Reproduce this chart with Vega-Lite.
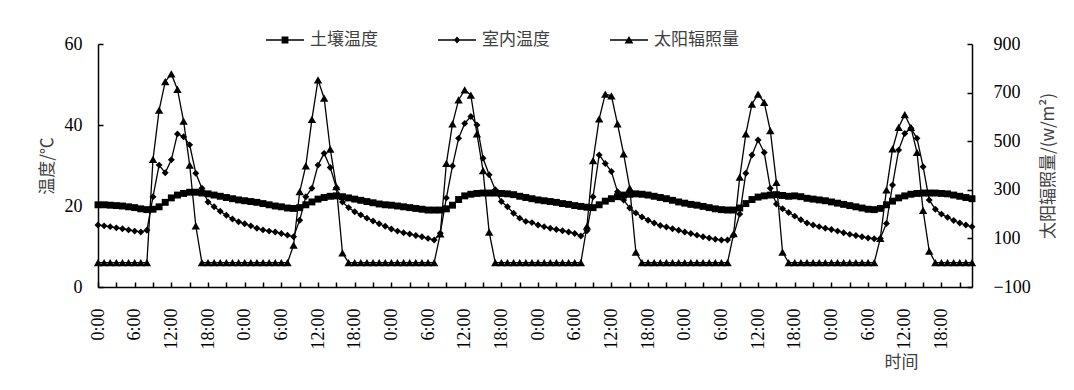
{
"$schema": "https://vega.github.io/schema/vega-lite/v6.json",
"width": 874, "height": 243,
"autosize": {"type": "none"},
"padding": {"left": 98, "top": 44, "right": 102, "bottom": 103},
"background": "white",
"config": {
  "view": {"stroke": null},
  "axis": {"grid": false, "domainColor": "black", "tickColor": "black", "labelColor": "black", "labelFont": "Liberation Serif", "labelFontSize": 18, "titleFont": "Noto Sans CJK SC", "titleFontWeight": "normal", "titleFontSize": 17, "titleColor": "#404040", "domainWidth": 1.5, "tickWidth": 1.5, "tickSize": -5, "labelOverlap": false, "labelFlush": false}
},
"data": {"values": [
{"h":0,"土壤温度":20.3,"室内温度":15.3,"太阳辐照量":0},
{"h":1,"土壤温度":20.3,"室内温度":15.1,"太阳辐照量":0},
{"h":2,"土壤温度":20.2,"室内温度":14.9,"太阳辐照量":0},
{"h":3,"土壤温度":20.1,"室内温度":14.6,"太阳辐照量":0},
{"h":4,"土壤温度":20.0,"室内温度":14.4,"太阳辐照量":0},
{"h":5,"土壤温度":19.8,"室内温度":14.1,"太阳辐照量":0},
{"h":6,"土壤温度":19.6,"室内温度":13.8,"太阳辐照量":0},
{"h":7,"土壤温度":19.3,"室内温度":13.6,"太阳辐照量":0},
{"h":8,"土壤温度":19.1,"室内温度":14.0,"太阳辐照量":0},
{"h":9,"土壤温度":19.2,"室内温度":22.3,"太阳辐照量":425},
{"h":10,"土壤温度":19.8,"室内温度":30.1,"太阳辐照量":628},
{"h":11,"土壤温度":20.9,"室内温度":28.2,"太阳辐照量":745},
{"h":12,"土壤温度":22.0,"室内温度":31.4,"太阳辐照量":777},
{"h":13,"土壤温度":22.7,"室内温度":37.8,"太阳辐照量":713},
{"h":14,"土壤温度":23.1,"室内温度":37.1,"太阳辐照量":583},
{"h":15,"土壤温度":23.4,"室内温度":35.1,"太阳辐照量":402},
{"h":16,"土壤温度":23.4,"室内温度":28.1,"太阳辐照量":152},
{"h":17,"土壤温度":23.2,"室内温度":24.4,"太阳辐照量":0},
{"h":18,"土壤温度":23.0,"室内温度":21.0,"太阳辐照量":0},
{"h":19,"土壤温度":22.7,"室内温度":19.8,"太阳辐照量":0},
{"h":20,"土壤温度":22.4,"室内温度":18.7,"太阳辐照量":0},
{"h":21,"土壤温度":22.1,"室内温度":17.7,"太阳辐照量":0},
{"h":22,"土壤温度":21.8,"室内温度":16.8,"太阳辐照量":0},
{"h":23,"土壤温度":21.5,"室内温度":16.1,"太阳辐照量":0},
{"h":24,"土壤温度":21.3,"室内温度":15.6,"太阳辐照量":0},
{"h":25,"土壤温度":21.1,"室内温度":15.1,"太阳辐照量":0},
{"h":26,"土壤温度":20.9,"室内温度":14.5,"太阳辐照量":0},
{"h":27,"土壤温度":20.6,"室内温度":14.1,"太阳辐照量":0},
{"h":28,"土壤温度":20.3,"室内温度":13.8,"太阳辐照量":0},
{"h":29,"土壤温度":20.0,"室内温度":13.6,"太阳辐照量":0},
{"h":30,"土壤温度":19.8,"室内温度":13.2,"太阳辐照量":0},
{"h":31,"土壤温度":19.5,"室内温度":12.8,"太阳辐照量":0},
{"h":32,"土壤温度":19.4,"室内温度":12.4,"太阳辐照量":72},
{"h":33,"土壤温度":19.6,"室内温度":16.5,"太阳辐照量":292},
{"h":34,"土壤温度":20.3,"室内温度":22.3,"太阳辐照量":398},
{"h":35,"土壤温度":21.0,"室内温度":24.4,"太阳辐照量":590},
{"h":36,"土壤温度":21.7,"室内温度":30.1,"太阳辐照量":752},
{"h":37,"土壤温度":22.1,"室内温度":33.0,"太阳辐照量":677},
{"h":38,"土壤温度":22.4,"室内温度":29.5,"太阳辐照量":467},
{"h":39,"土壤温度":22.5,"室内温度":24.5,"太阳辐照量":313},
{"h":40,"土壤温度":22.3,"室内温度":21.0,"太阳辐照量":40},
{"h":41,"土壤温度":22.0,"室内温度":19.6,"太阳辐照量":0},
{"h":42,"土壤温度":21.7,"室内温度":18.6,"太阳辐照量":0},
{"h":43,"土壤温度":21.4,"室内温度":17.8,"太阳辐照量":0},
{"h":44,"土壤温度":21.1,"室内温度":17.0,"太阳辐照量":0},
{"h":45,"土壤温度":20.8,"室内温度":16.3,"太阳辐照量":0},
{"h":46,"土壤温度":20.5,"室内温度":15.6,"太阳辐照量":0},
{"h":47,"土壤温度":20.3,"室内温度":15.0,"太阳辐照量":0},
{"h":48,"土壤温度":20.2,"室内温度":14.3,"太阳辐照量":0},
{"h":49,"土壤温度":20.0,"室内温度":13.8,"太阳辐照量":0},
{"h":50,"土壤温度":19.8,"室内温度":13.4,"太阳辐照量":0},
{"h":51,"土壤温度":19.6,"室内温度":13.1,"太阳辐照量":0},
{"h":52,"土壤温度":19.4,"室内温度":12.7,"太阳辐照量":0},
{"h":53,"土壤温度":19.2,"室内温度":12.4,"太阳辐照量":0},
{"h":54,"土壤温度":19.0,"室内温度":12.0,"太阳辐照量":0},
{"h":55,"土壤温度":19.0,"室内温度":11.6,"太阳辐照量":0},
{"h":56,"土壤温度":19.0,"室内温度":13.3,"太阳辐照量":119},
{"h":57,"土壤温度":19.3,"室内温度":22.0,"太阳辐照量":409},
{"h":58,"土壤温度":20.2,"室内温度":29.9,"太阳辐照量":571},
{"h":59,"土壤温度":21.6,"室内温度":36.7,"太阳辐照量":670},
{"h":60,"土壤温度":22.5,"室内温度":40.4,"太阳辐照量":711},
{"h":61,"土壤温度":22.9,"室内温度":42.1,"太阳辐照量":690},
{"h":62,"土壤温度":23.1,"室内温度":40.0,"太阳辐照量":530},
{"h":63,"土壤温度":23.2,"室内温度":31.8,"太阳辐照量":379},
{"h":64,"土壤温度":23.2,"室内温度":27.7,"太阳辐照量":126},
{"h":65,"土壤温度":23.2,"室内温度":24.0,"太阳辐照量":0},
{"h":66,"土壤温度":23.1,"室内温度":21.1,"太阳辐照量":0},
{"h":67,"土壤温度":23.0,"室内温度":19.8,"太阳辐照量":0},
{"h":68,"土壤温度":22.8,"室内温度":18.2,"太阳辐照量":0},
{"h":69,"土壤温度":22.4,"室内温度":17.0,"太阳辐照量":0},
{"h":70,"土壤温度":22.1,"室内温度":16.2,"太阳辐照量":0},
{"h":71,"土壤温度":21.8,"室内温度":15.9,"太阳辐照量":0},
{"h":72,"土壤温度":21.5,"室内温度":15.3,"太阳辐照量":0},
{"h":73,"土壤温度":21.3,"室内温度":14.9,"太阳辐照量":0},
{"h":74,"土壤温度":21.1,"室内温度":14.5,"太阳辐照量":0},
{"h":75,"土壤温度":20.9,"室内温度":14.2,"太阳辐照量":0},
{"h":76,"土壤温度":20.6,"室内温度":13.9,"太阳辐照量":0},
{"h":77,"土壤温度":20.4,"室内温度":13.6,"太阳辐照量":0},
{"h":78,"土壤温度":20.1,"室内温度":13.2,"太阳辐照量":0},
{"h":79,"土壤温度":19.9,"室内温度":12.6,"太阳辐照量":0},
{"h":80,"土壤温度":19.7,"室内温度":13.9,"太阳辐照量":150},
{"h":81,"土壤温度":19.6,"室内温度":22.3,"太阳辐照量":420},
{"h":82,"土壤温度":20.3,"室内温度":32.6,"太阳辐照量":592},
{"h":83,"土壤温度":21.2,"室内温度":30.5,"太阳辐照量":694},
{"h":84,"土壤温度":21.8,"室内温度":28.5,"太阳辐照量":687},
{"h":85,"土壤温度":22.3,"室内温度":23.5,"太阳辐照量":571},
{"h":86,"土壤温度":22.7,"室内温度":21.5,"太阳辐照量":448},
{"h":87,"土壤温度":22.9,"室内温度":19.5,"太阳辐照量":307},
{"h":88,"土壤温度":23.0,"室内温度":18.3,"太阳辐照量":44},
{"h":89,"土壤温度":22.9,"室内温度":17.3,"太阳辐照量":0},
{"h":90,"土壤温度":22.7,"室内温度":16.5,"太阳辐照量":0},
{"h":91,"土壤温度":22.4,"室内温度":15.8,"太阳辐照量":0},
{"h":92,"土壤温度":22.1,"室内温度":15.2,"太阳辐照量":0},
{"h":93,"土壤温度":21.8,"室内温度":14.8,"太阳辐照量":0},
{"h":94,"土壤温度":21.4,"室内温度":14.4,"太阳辐照量":0},
{"h":95,"土壤温度":21.0,"室内温度":14.0,"太阳辐照量":0},
{"h":96,"土壤温度":20.7,"室内温度":13.6,"太阳辐照量":0},
{"h":97,"土壤温度":20.4,"室内温度":13.2,"太阳辐照量":0},
{"h":98,"土壤温度":20.2,"室内温度":12.8,"太阳辐照量":0},
{"h":99,"土壤温度":19.9,"室内温度":12.4,"太阳辐照量":0},
{"h":100,"土壤温度":19.6,"室内温度":12.1,"太阳辐照量":0},
{"h":101,"土壤温度":19.3,"室内温度":11.8,"太阳辐照量":0},
{"h":102,"土壤温度":19.1,"室内温度":11.6,"太阳辐照量":0},
{"h":103,"土壤温度":19.0,"室内温度":11.6,"太阳辐照量":0},
{"h":104,"土壤温度":19.0,"室内温度":12.8,"太阳辐照量":120},
{"h":105,"土壤温度":19.5,"室内温度":18.0,"太阳辐照量":352},
{"h":106,"土壤温度":20.6,"室内温度":28.1,"太阳辐照量":530},
{"h":107,"土壤温度":21.6,"室内温度":32.6,"太阳辐照量":653},
{"h":108,"土壤温度":22.2,"室内温度":36.3,"太阳辐照量":694},
{"h":109,"土壤温度":22.5,"室内温度":33.2,"太阳辐照量":660},
{"h":110,"土壤温度":22.7,"室内温度":24.4,"太阳辐照量":544},
{"h":111,"土壤温度":22.8,"室内温度":20.5,"太阳辐照量":331},
{"h":112,"土壤温度":22.6,"室内温度":19.3,"太阳辐照量":44},
{"h":113,"土壤温度":22.4,"室内温度":18.4,"太阳辐照量":0},
{"h":114,"土壤温度":22.5,"室内温度":17.5,"太阳辐照量":0},
{"h":115,"土壤温度":22.3,"室内温度":16.6,"太阳辐照量":0},
{"h":116,"土壤温度":21.9,"室内温度":15.8,"太阳辐照量":0},
{"h":117,"土壤温度":21.7,"室内温度":15.3,"太阳辐照量":0},
{"h":118,"土壤温度":21.5,"室内温度":14.9,"太阳辐照量":0},
{"h":119,"土壤温度":21.3,"室内温度":14.5,"太阳辐照量":0},
{"h":120,"土壤温度":21.0,"室内温度":14.2,"太阳辐照量":0},
{"h":121,"土壤温度":20.7,"室内温度":13.8,"太阳辐照量":0},
{"h":122,"土壤温度":20.4,"室内温度":13.4,"太阳辐照量":0},
{"h":123,"土壤温度":20.1,"室内温度":13.0,"太阳辐照量":0},
{"h":124,"土壤温度":19.8,"室内温度":12.7,"太阳辐照量":0},
{"h":125,"土壤温度":19.5,"室内温度":12.4,"太阳辐照量":0},
{"h":126,"土壤温度":19.2,"室内温度":12.1,"太阳辐照量":0},
{"h":127,"土壤温度":19.1,"室内温度":11.9,"太阳辐照量":0},
{"h":128,"土壤温度":19.4,"室内温度":12.0,"太阳辐照量":100},
{"h":129,"土壤温度":20.3,"室内温度":15.7,"太阳辐照量":300},
{"h":130,"土壤温度":21.2,"室内温度":25.2,"太阳辐照量":468},
{"h":131,"土壤温度":22.0,"室内温度":33.8,"太阳辐照量":557},
{"h":132,"土壤温度":22.5,"室内温度":37.9,"太阳辐照量":609},
{"h":133,"土壤温度":22.9,"室内温度":39.2,"太阳辐照量":557},
{"h":134,"土壤温度":23.1,"室内温度":36.7,"太阳辐照量":454},
{"h":135,"土壤温度":23.2,"室内温度":29.7,"太阳辐照量":215},
{"h":136,"土壤温度":23.2,"室内温度":21.5,"太阳辐照量":48},
{"h":137,"土壤温度":23.2,"室内温度":19.2,"太阳辐照量":0},
{"h":138,"土壤温度":23.1,"室内温度":18.0,"太阳辐照量":0},
{"h":139,"土壤温度":23.0,"室内温度":17.2,"太阳辐照量":0},
{"h":140,"土壤温度":22.7,"室内温度":16.4,"太阳辐照量":0},
{"h":141,"土壤温度":22.4,"室内温度":15.8,"太阳辐照量":0},
{"h":142,"土壤温度":22.1,"室内温度":15.3,"太阳辐照量":0},
{"h":143,"土壤温度":21.8,"室内温度":14.9,"太阳辐照量":0}
]},
"layer": [
  {
    "transform": [{"fold": ["土壤温度", "室内温度"], "as": ["series", "value"]}],
    "encoding": {
      "x": {"field": "h", "type": "quantitative", "scale": {"domain": [0, 143], "nice": false, "zero": false},
        "axis": {"orient": "bottom", "values": [0,6,12,18,24,30,36,42,48,54,60,66,72,78,84,90,96,102,108,114,120,126,132,138],
          "labelExpr": "(datum.value % 24) + ':00'",
          "labelAngle": 270, "labelFontSize": 18, "labelPadding": 26, "labelOverlap": false, "labelBound": false,
          "title": "时间", "titleX": 803, "titleY": 75, "titleAngle": 0, "titleAlign": "center", "titleBaseline": "middle"}},
      "y": {"field": "value", "type": "quantitative", "scale": {"domain": [0, 60], "nice": false},
        "axis": {"orient": "left", "values": [0, 20, 40, 60], "title": "温度/℃", "labelPadding": 21, "titlePadding": 8}}
    },
    "layer": [
      {"mark": {"type": "line", "color": "black", "strokeWidth": 1.3}, "encoding": {"detail": {"field": "series"}}},
      {"transform": [{"filter": "datum.series === '土壤温度'"}],
       "mark": {"type": "point", "shape": "square", "filled": true, "color": "black", "opacity": 1, "size": 48}},
      {"transform": [{"filter": "datum.series === '室内温度'"}],
       "mark": {"type": "point", "shape": "diamond", "filled": true, "color": "black", "opacity": 1, "size": 48}},
      {"transform": [{"filter": "false"}],
       "mark": {"type": "point", "filled": true, "fill": "black", "opacity": 1},
       "encoding": {
         "shape": {"field": "series", "type": "nominal",
           "scale": {"domain": ["土壤温度", "室内温度", "太阳辐照量"],
             "range": ["M-1,-0.035H1V0.035H-1ZM-0.18,-0.18H0.18V0.18H-0.18Z", "M-1,-0.035H1V0.035H-1ZM0,-0.19L0.16,0L0,0.19L-0.16,0Z", "M-1,-0.035H1V0.035H-1ZM0,-0.21L0.23,0.18H-0.23Z"]},
           "legend": {"orient": "none", "legendX": 167, "legendY": -24, "direction": "horizontal", "title": null,
             "symbolSize": 1444, "labelFont": "Noto Sans CJK SC", "labelFontSize": 17, "labelColor": "#404040",
             "labelOffset": 5, "columnPadding": 57, "padding": 0,
             "symbolFillColor": "black", "symbolOpacity": 1}}
       }}
    ]
  },
  {
    "transform": [{"fold": ["太阳辐照量"], "as": ["series", "value"]}],
    "encoding": {
      "x": {"field": "h", "type": "quantitative",
        "axis": {"orient": "bottom", "values": [3,9,15,21,27,33,39,45,51,57,63,69,75,81,87,93,99,105,111,117,123,129,135,141], "labels": false, "domain": false, "title": null}},
      "y": {"field": "value", "type": "quantitative", "scale": {"domain": [-100, 900], "nice": false, "zero": false},
        "axis": {"orient": "right", "values": [-100, 100, 300, 500, 700, 900], "title": "太阳辐照量/(w/m²)", "labelPadding": 26, "titlePadding": 10, "titleAngle": 270, "titleBaseline": "top"}}
    },
    "layer": [
      {"mark": {"type": "line", "color": "black", "strokeWidth": 1.3}, "encoding": {"detail": {"field": "series"}}},
      {"mark": {"type": "point", "shape": "triangle-up", "filled": true, "color": "black", "opacity": 1, "size": 70}}
    ]
  }
],
"resolve": {"scale": {"y": "independent"}, "axis": {"x": "independent"}}
}
